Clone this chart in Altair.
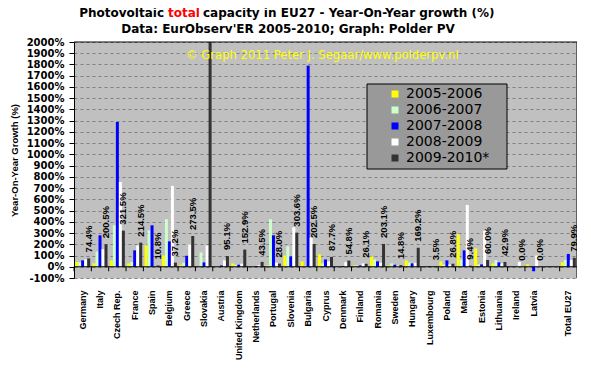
import altair as alt
import pandas as pd

countries = ["Germany", "Italy", "Czech Rep.", "France", "Spain", "Belgium", "Greece",
             "Slovakia", "Austria", "United Kingdom", "Netherlands", "Portugal", "Slovenia",
             "Bulgaria", "Cyprus", "Denmark", "Finland", "Romania", "Sweden", "Hungary",
             "Luxembourg", "Poland", "Malta", "Estonia", "Lithuania", "Ireland", "Latvia",
             "Total EU27"]
gap = " "
slots = countries[:-1] + [gap] + countries[-1:]

series = ["2005-2006", "2006-2007", "2007-2008", "2008-2009", "2009-2010*"]
colors = ["#FFFF00", "#CCFFCC", "#0000FF", "#FFFFFF", "#333333"]

g0506 = [43, 31, 57, 30, 190, 100, 18, 0, 5, 30, 3, 12, 100, 48, 110, 3, 12, 90, 12, 57,
         1, 48, 289, 164, 30, 0, 22, 40]
g0607 = [40, 135, 369, 42, 324, 423, 36, 128, 5, 18, 3, 423, 182, 9, 30, 3, 12, 65, 30, 39,
         1, 20, 65, 21, 57, 0, 0, 60]
g0708 = [57, 280, 1288, 146, 369, 226, 98, 39, 12, 18, 5, 280, 92, 1790, 65, 6, 12, 48, 18, 30,
         5, 57, 146, 21, 39, 0, -40, 114]
g0809 = [65, 156, 754, 190, 2.5, 720, 200, 190, 57, 27, 14, 36, 351, 260, 48, 42, 30, 36, 12, 36,
         1, 20, 550, 320, 30, 43, 100, 60]
# Slovakia 2009-2010 runs off the top of the chart (no label shown)
g0910 = [74.4, 200.5, 321.5, 214.5, 10.8, 37.2, 273.5, 2100, 95.1, 152.9, 43.5, 28.0, 303.6,
         202.5, 87.7, 54.8, 26.1, 203.1, 14.8, 169.2, 3.5, 26.8, 9.4, 60.0, 42.9, 0.0, 0.0, 79.9]
label_hidden = ["Slovakia"]

y_ticks = list(range(-100, 2001, 100))

all_series = [g0506, g0607, g0708, g0809, g0910]
rows = []
for s, vals in zip(series, all_series):
    for c, v in zip(countries, vals):
        rows.append({"country": c, "series": s, "value": v})
df = pd.DataFrame(rows)

lab_rows = []
for c, v in zip(countries, g0910):
    if c not in label_hidden:
        lab_rows.append({"country": c, "series": series[-1], "value": v, "label": f"{v:.1f}%"})
df_lab = pd.DataFrame(lab_rows)

xscale = alt.Scale(domain=slots, paddingInner=0, paddingOuter=0)
oscale = alt.Scale(domain=series, paddingInner=0, paddingOuter=0.39)
yscale = alt.Scale(domain=[-100, 2000], nice=False)

xaxis = alt.Axis(title=None, domain=False, ticks=False, tickSize=0, labelAngle=-90,
                 labelFont="Liberation Sans", labelFontWeight="bold", labelFontSize=9,
                 labelColor="black", labelPadding=12, grid=False)
yaxis = alt.Axis(values=y_ticks, labelExpr="datum.value + '%'", labelOverlap=False,
                 grid=True, gridColor="#808080",
                 gridDash=[3, 3], domainColor="black", tickColor="black", tickSize=5,
                 labelFont="DejaVu Sans", labelFontWeight="bold", labelFontSize=10,
                 labelColor="black", labelPadding=5, title="Year-On-Year Growth (%)",
                 titleFont="Liberation Sans", titleFontSize=9.5, titleFontWeight="bold",
                 titleColor="black", titlePadding=7)


def xdef(**kw):
    return alt.X("country:N", scale=xscale, axis=xaxis, **kw)


def ydef():
    return alt.Y("value:Q", scale=yscale, axis=yaxis)


bars = alt.Chart(df).mark_bar(clip=True).encode(
    x=xdef(),
    xOffset=alt.XOffset("series:N", scale=oscale),
    y=ydef(),
    color=alt.Color("series:N", scale=alt.Scale(domain=series, range=colors),
                    legend=alt.Legend(orient="none", legendX=314, legendY=45, title=None,
                                      padding=0, symbolType="square", symbolSize=49,
                                      symbolStrokeWidth=0, labelOffset=4,
                                      labelFont="DejaVu Sans", labelFontSize=14,
                                      labelColor="black", rowPadding=2)),
)

# legend frame (decoration behind the legend entries)
one = pd.DataFrame({"t": [0]})
legend_box = alt.Chart(one).mark_rect(fill="#999999", stroke="black", strokeWidth=1).encode(
    x=alt.value(293), x2=alt.value(433), y=alt.value(42), y2=alt.value(127))

zero = alt.Chart(pd.DataFrame({"value": [0]})).mark_rule(color="black", strokeWidth=1).encode(
    y=ydef())

ticks = alt.Chart(pd.DataFrame({"country": slots, "value": [0] * len(slots),
                                "value2": [-40] * len(slots)})).mark_rule(
    color="black", strokeWidth=1).encode(
    x=xdef(bandPosition=0), y=ydef(), y2="value2:Q")

top_border = alt.Chart(one).mark_rule(color="black").encode(
    x=alt.value(0), x2=alt.value(503), y=alt.value(0))
right_border = alt.Chart(one).mark_rule(color="black").encode(
    x=alt.value(503), y=alt.value(0), y2=alt.value(236))

labels = alt.Chart(df_lab).mark_text(angle=270, align="left", baseline="middle", dx=6,
                                     font="Liberation Sans", fontWeight="bold", fontSize=9.5,
                                     color="black").encode(
    x=xdef(), xOffset=alt.XOffset("series:N", scale=oscale), y=ydef(), text="label:N")

tfont = dict(font="DejaVu Sans", fontWeight="bold", fontSize=12, baseline="middle")
t1a = alt.Chart(one).mark_text(text="Photovoltaic", align="right", color="black", **tfont).encode(
    x=alt.value(90), y=alt.value(-29))
t1b = alt.Chart(one).mark_text(text="total", align="left", color="#FF0000", **tfont).encode(
    x=alt.value(94), y=alt.value(-29))
t1c = alt.Chart(one).mark_text(text="capacity in EU27 - Year-On-Year growth (%)", align="left",
                               color="black", **tfont).encode(x=alt.value(129), y=alt.value(-29))
t2 = alt.Chart(one).mark_text(text="Data: EurObserv'ER 2005-2010; Graph: Polder PV",
                              align="center", color="black", **tfont).encode(
    x=alt.value(214), y=alt.value(-13))
copy = alt.Chart(one).mark_text(text="© Graph 2011 Peter J. Segaar/www.polderpv.nl", align="left",
                                baseline="middle", font="DejaVu Sans", fontSize=11.6,
                                color="#FFFF00").encode(x=alt.value(112), y=alt.value(14))

chart = alt.layer(bars, legend_box, zero, ticks, labels, top_border, right_border,
                  t1a, t1b, t1c, t2, copy).properties(
    width=503, height=236,
    autosize=alt.AutoSizeParams(type="none"),
    padding={"left": 66, "top": 34, "right": 0, "bottom": 85},
    background="white",
).configure_view(fill="#C0C0C0", stroke="transparent")

chart.save("out.html", embed_options={"renderer": "svg", "actions": False})
